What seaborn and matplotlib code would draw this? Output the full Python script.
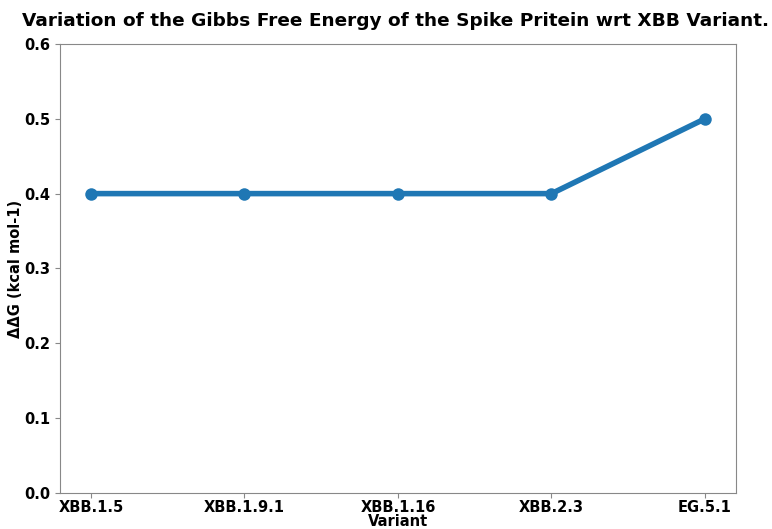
import matplotlib
matplotlib.use('Agg')
import matplotlib.pyplot as plt
import seaborn as sns
import pandas as pd

variants = ['XBB.1.5', 'XBB.1.9.1', 'XBB.1.16', 'XBB.2.3', 'EG.5.1']
ddg = [0.4, 0.4, 0.4, 0.4, 0.5]

df = pd.DataFrame({'Variant': variants, 'ddG': ddg})

plt.rcParams['font.family'] = ['DejaVu Sans']
plt.rcParams['font.weight'] = 'bold'

fig, ax = plt.subplots(figsize=(7.72, 5.29), dpi=100)
sns.lineplot(data=df, x='Variant', y='ddG', marker='o', color='#1f77b4',
             linewidth=4, markersize=9, markeredgewidth=0, sort=False, ax=ax)

ax.set_ylim(0, 0.6)
ax.set_title('Variation of the Gibbs Free Energy of the Spike Pritein wrt XBB Variant.',
             fontsize=13.3, fontweight='bold', pad=13, x=0.497)
ax.set_xlabel('Variant', fontsize=10.5, fontweight='bold', labelpad=-1)
ax.set_ylabel('ΔΔG (kcal mol-1)', fontsize=10.5, fontweight='bold', labelpad=1)
ax.tick_params(labelsize=10.5, colors='black')
ax.tick_params(axis='x', pad=1.5)
for lbl in ax.get_xticklabels() + ax.get_yticklabels():
    lbl.set_fontweight('bold')
for sp in ax.spines.values():
    sp.set_color('#888888')
ax.tick_params(color='#888888')

plt.subplots_adjust(left=0.078, right=0.953, top=0.917, bottom=0.068)
fig.savefig('out.png', dpi=100)
